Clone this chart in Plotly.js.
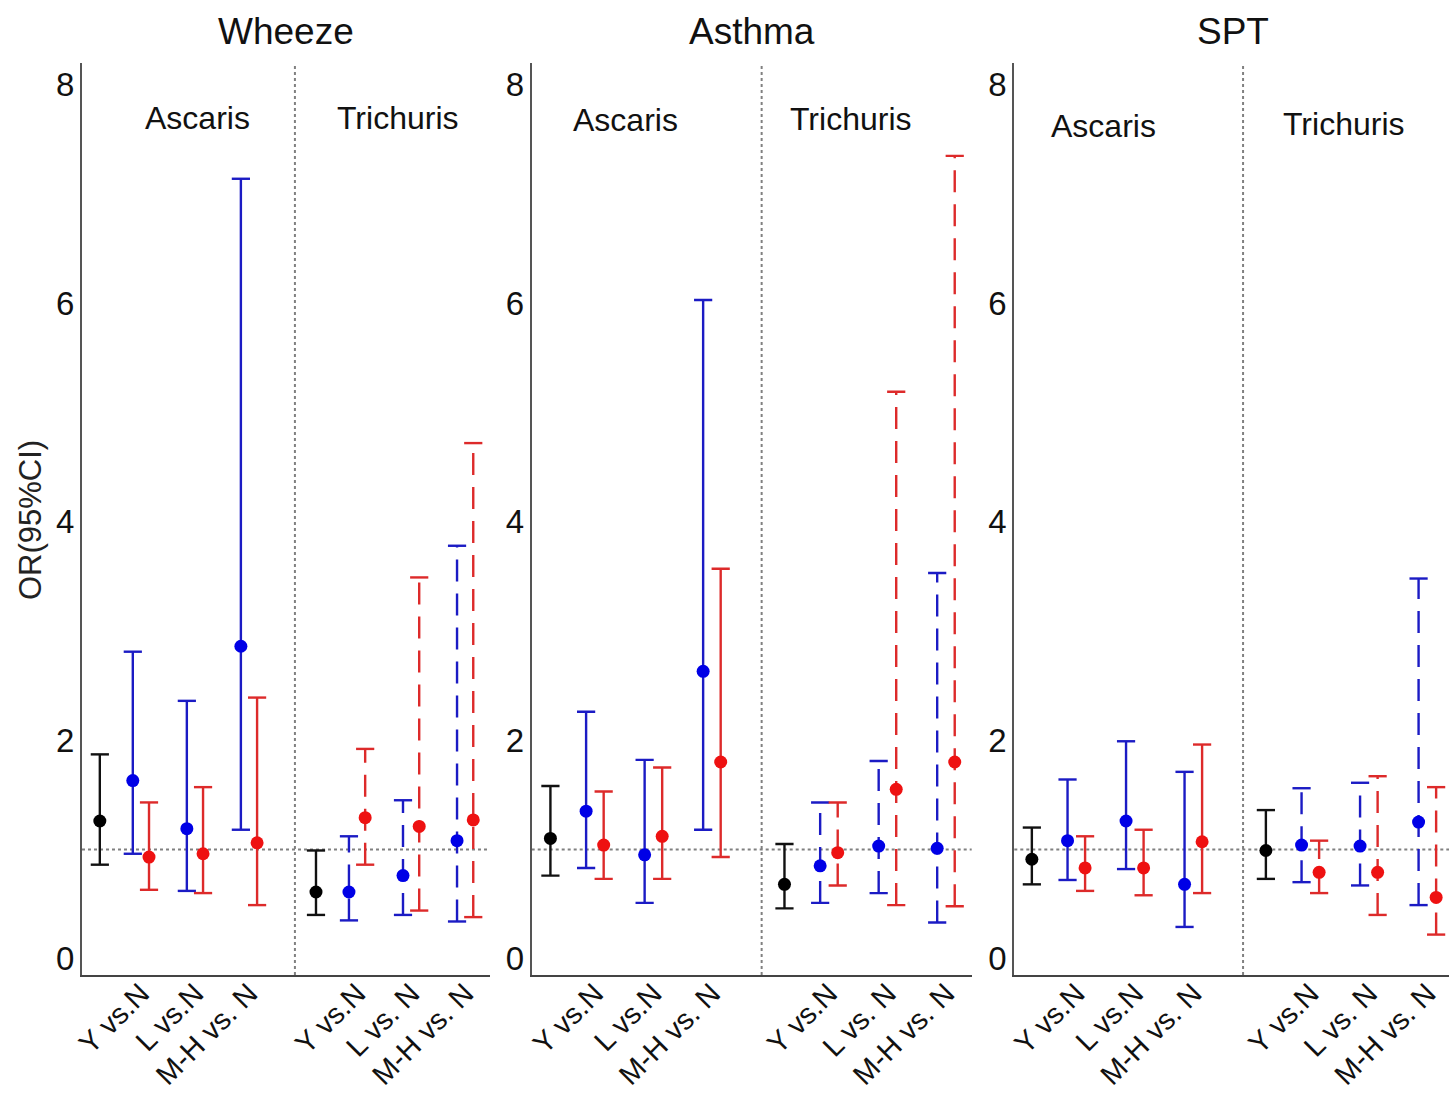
<!DOCTYPE html>
<html>
<head>
<meta charset="utf-8">
<script src="https://cdn.plot.ly/plotly-3.0.1.min.js"></script>
<style>html,body{margin:0;padding:0;background:#fff;}#chart{width:1449px;height:1095px;}</style>
</head>
<body>
<div id="chart"></div>
<script>
// ---------- data ----------
const outcomes = ['Wheeze', 'Asthma', 'SPT'];
const helminths = ['Ascaris', 'Trichuris'];
const ascarisTicks = ['Y vs.N', 'L vs.N', 'M-H vs. N'];
const trichurisTicks = ['Y vs.N', 'L vs. N', 'M-H vs. N'];

// black: [Ascaris, Trichuris]; blue/red: [Asc Y, Asc L, Asc M-H, Tri Y, Tri L, Tri M-H]
const wheezeBlackOR = [1.26, 0.61];
const wheezeBlackLo = [0.86, 0.40];
const wheezeBlackHi = [1.87, 0.99];
const wheezeBlueOR = [1.63, 1.19, 2.86, 0.61, 0.76, 1.08];
const wheezeBlueLo = [0.96, 0.62, 1.18, 0.35, 0.40, 0.34];
const wheezeBlueHi = [2.81, 2.36, 7.14, 1.12, 1.45, 3.78];
const wheezeRedOR = [0.93, 0.96, 1.06, 1.29, 1.21, 1.27];
const wheezeRedLo = [0.63, 0.60, 0.49, 0.86, 0.44, 0.38];
const wheezeRedHi = [1.43, 1.57, 2.39, 1.92, 3.49, 4.72];

const asthmaBlackOR = [1.10, 0.68];
const asthmaBlackLo = [0.76, 0.46];
const asthmaBlackHi = [1.58, 1.05];
const asthmaBlueOR = [1.35, 0.95, 2.63, 0.85, 1.03, 1.01];
const asthmaBlueLo = [0.83, 0.51, 1.18, 0.51, 0.60, 0.33];
const asthmaBlueHi = [2.26, 1.82, 6.03, 1.43, 1.81, 3.53];
const asthmaRedOR = [1.04, 1.12, 1.80, 0.97, 1.55, 1.80];
const asthmaRedLo = [0.73, 0.73, 0.93, 0.67, 0.49, 0.48];
const asthmaRedHi = [1.53, 1.75, 3.57, 1.43, 5.19, 7.35];

const sptBlackOR = [0.91, 0.99];
const sptBlackLo = [0.68, 0.73];
const sptBlackHi = [1.20, 1.36];
const sptBlueOR = [1.08, 1.26, 0.68, 1.04, 1.03, 1.25];
const sptBlueLo = [0.72, 0.82, 0.29, 0.70, 0.67, 0.49];
const sptBlueHi = [1.64, 1.99, 1.71, 1.56, 1.61, 3.48];
const sptRedOR = [0.83, 0.83, 1.07, 0.79, 0.79, 0.56];
const sptRedLo = [0.62, 0.58, 0.60, 0.60, 0.40, 0.22];
const sptRedHi = [1.12, 1.18, 1.96, 1.08, 1.67, 1.57];

// ---------- assembly ----------
const panels = [
  {black: [wheezeBlackOR, wheezeBlackLo, wheezeBlackHi], blue: [wheezeBlueOR, wheezeBlueLo, wheezeBlueHi], red: [wheezeRedOR, wheezeRedLo, wheezeRedHi]},
  {black: [asthmaBlackOR, asthmaBlackLo, asthmaBlackHi], blue: [asthmaBlueOR, asthmaBlueLo, asthmaBlueHi], red: [asthmaRedOR, asthmaRedLo, asthmaRedHi]},
  {black: [sptBlackOR, sptBlackLo, sptBlackHi], blue: [sptBlueOR, sptBlueLo, sptBlueHi], red: [sptRedOR, sptRedLo, sptRedHi]}
];

const FONT = 'Arial, "Liberation Sans", sans-serif';
const groupBase = [0, 4];          // Ascaris, Trichuris category offset
const catPos = [1, 2, 3];
const blackPos = 0.24;
const pairOff = 0.15;
const COL = {
  black: {line: '#111111', dot: '#000000'},
  blue: {line: '#1b1bc4', dot: '#0000e6'},
  red: {line: '#dd2a2a', dot: '#ee1111'}
};
const DASH = '22px,12px';

const xDomains = [[82/1449, 490/1449], [531.7/1449, 971.7/1449], [1014.3/1449, 1]];
const xRanges = [[-0.09, 7.46], [-0.08, 7.44], [-0.06, 7.37]];
const yDomain = [(1095-975)/1095, (1095-63)/1095];
const yRange = [-0.15, 8.2];

const traces = [];
function addSeries(xs, ors, los, his, col, dashFlags, xa, ya) {
  ['solid', 'dash'].forEach(style => {
    const lx = [], ly = [];
    xs.forEach((x, i) => {
      const isDash = dashFlags[i];
      if ((style === 'dash') === isDash) { lx.push(x, x, null); ly.push(los[i], his[i], null); }
    });
    if (lx.length) traces.push({type: 'scatter', mode: 'lines', x: lx, y: ly, xaxis: xa, yaxis: ya,
      line: {color: col.line, width: 2.4, dash: style === 'dash' ? DASH : 'solid'}, hoverinfo: 'skip', showlegend: false});
  });
  traces.push({type: 'scatter', mode: 'markers', x: xs.concat(xs), y: los.concat(his), xaxis: xa, yaxis: ya,
    marker: {symbol: 'line-ew-open', size: 13, color: col.line, line: {color: col.line, width: 2.4}},
    hoverinfo: 'skip', showlegend: false});
  traces.push({type: 'scatter', mode: 'markers', x: xs, y: ors, xaxis: xa, yaxis: ya,
    marker: {symbol: 'circle', size: 13, color: col.dot}, showlegend: false});
}

const layout = {
  width: 1449, height: 1095,
  margin: {l: 0, r: 0, t: 0, b: 0},
  paper_bgcolor: '#fff', plot_bgcolor: '#fff',
  font: {family: FONT, color: '#111'},
  showlegend: false,
  shapes: [], annotations: []
};

const tickVals = [];
groupBase.forEach(b => catPos.forEach(c => tickVals.push(b + c)));
const tickText = ascarisTicks.concat(trichurisTicks);
const sectionPos = [
  [[2.05, 7.70], [5.75, 7.70]],
  [[1.53, 7.68], [5.36, 7.69]],
  [[1.46, 7.62], [5.56, 7.64]]
];
const titleX = [286/1449, 752/1449, 1233/1449];

panels.forEach((p, k) => {
  const sfx = k === 0 ? '' : String(k + 1);
  const xa = 'x' + sfx, ya = 'y' + sfx;
  const bx = groupBase.map(b => b + blackPos);
  addSeries(bx, p.black[0], p.black[1], p.black[2], COL.black, [false, false], xa, ya);
  const blueX = [], redX = [], dashF = [];
  groupBase.forEach((b, g) => catPos.forEach(c => {
    blueX.push(b + c - pairOff); redX.push(b + c + pairOff); dashF.push(g === 1);
  }));
  addSeries(blueX, p.blue[0], p.blue[1], p.blue[2], COL.blue, dashF, xa, ya);
  addSeries(redX, p.red[0], p.red[1], p.red[2], COL.red, dashF, xa, ya);

  layout['xaxis' + sfx] = {
    domain: xDomains[k], range: xRanges[k], anchor: ya,
    showgrid: false, zeroline: false, showline: true, linecolor: '#444', linewidth: 2,
    ticks: '', tickvals: tickVals, ticktext: tickText, tickangle: -45,
    tickfont: {family: FONT, size: 29, color: '#111'}, automargin: false,
    ticklabelstandoff: -12
  };
  layout['yaxis' + sfx] = {
    domain: yDomain, range: yRange, anchor: xa,
    showgrid: false, zeroline: false, showline: true, linecolor: '#555', linewidth: 2,
    ticks: '', tickvals: [0, 2, 4, 6, 8], ticktext: ['0', '2', '4', '6', '8'],
    tickfont: {family: FONT, size: 33, color: '#111'}, automargin: false, ticklabelstandoff: -1
  };
  layout.shapes.push({type: 'line', xref: xa + ' domain', yref: ya, x0: 0, x1: 1, y0: 1, y1: 1,
    line: {color: '#808080', width: 2, dash: 'dot'}, layer: 'below'});
  layout.shapes.push({type: 'line', xref: xa, yref: ya + ' domain', x0: 3.85, x1: 3.85, y0: 0, y1: 1,
    line: {color: '#808080', width: 2, dash: 'dot'}, layer: 'below'});
  helminths.forEach((h, g) => {
    layout.annotations.push({xref: xa, yref: ya, x: sectionPos[k][g][0], y: sectionPos[k][g][1],
      text: h, showarrow: false, font: {family: FONT, size: 32, color: '#111'}});
  });
  layout.annotations.push({xref: 'paper', yref: 'paper', x: titleX[k], y: (1095-32)/1095,
    xanchor: 'center', yanchor: 'middle', text: outcomes[k], showarrow: false,
    font: {family: FONT, size: 37, color: '#111'}});
});

layout.annotations.push({xref: 'paper', yref: 'paper', x: 30/1449, y: (1095-520)/1095,
  xanchor: 'center', yanchor: 'middle', textangle: -90, text: 'OR(95%CI)', showarrow: false,
  font: {family: FONT, size: 31, color: '#222'}});

Plotly.newPlot('chart', traces, layout, {displayModeBar: false, staticPlot: true});
</script>
</body>
</html>
